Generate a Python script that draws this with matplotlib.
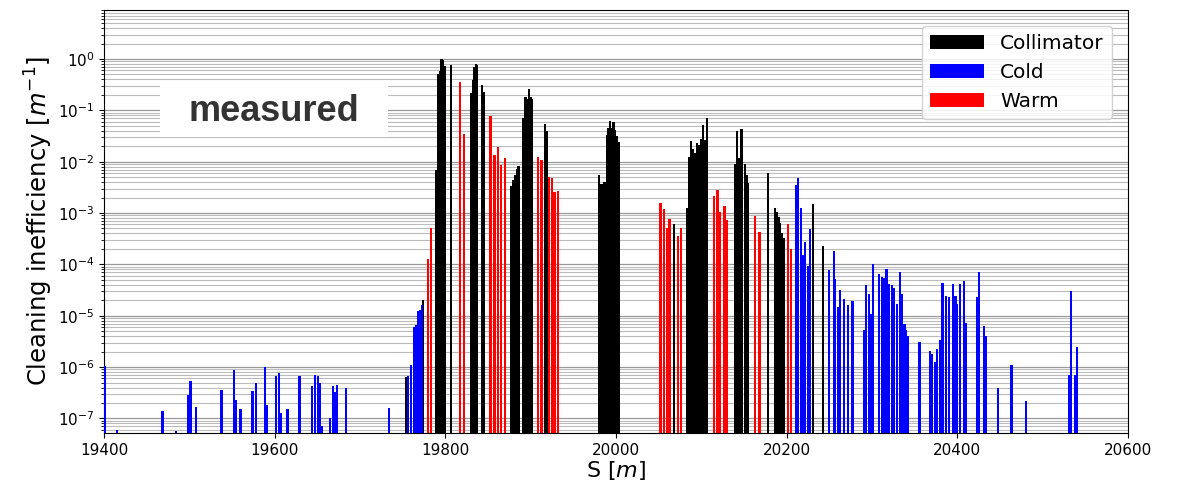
import numpy as np
import matplotlib
matplotlib.use('Agg')
import matplotlib.pyplot as plt
from matplotlib.ticker import LogLocator, NullFormatter
from matplotlib.patches import Rectangle

# longitudinal position [m] and cleaning inefficiency [1/m] per element type
coll_s = [19754, 19774, 19788.6, 19791, 19793.5, 19795.5, 19797.2, 19799, 19806.6,
          19830, 19832, 19834, 19836, 19837.5, 19842.6, 19844.8,
          19877, 19879.5, 19881.5, 19883.6, 19885.6,
          19891, 19893.8, 19896, 19897.7, 19899.7, 19901.7, 19916.5, 19918.8,
          19980, 19982.5, 19984.5, 19986.5, 19989, 19991, 19993, 19995, 19997, 19999, 20001, 20003,
          20067.8, 20083.6, 20085.4, 20087.7, 20089.5, 20091.5, 20093, 20094.7, 20097.5,
          20099.8, 20102, 20104.4, 20106.8,
          20140, 20141.7, 20144, 20147, 20151, 20153, 20155, 20177.8,
          20186.5, 20188.4, 20190.6, 20192.3, 20194, 20196.5, 20230.8, 20242.8]
coll_v = [6.3e-7, 2e-5, 6.8e-3, 0.5, 0.58, 1.0, 0.95, 0.72, 0.76,
          0.22, 0.39, 0.71, 0.79, 0.75, 0.31, 0.23,
          3.4e-3, 4.4e-3, 5.6e-3, 7.1e-3, 8.3e-3,
          0.072, 0.18, 0.17, 0.26, 0.18, 0.17, 0.054, 0.04,
          5.6e-3, 3.6e-3, 3.6e-3, 4e-3, 0.033, 0.046, 0.062, 0.046, 0.058, 0.042, 0.032, 0.024,
          6e-4, 1.23e-3, 0.0126, 0.025, 0.0174, 0.015, 0.015, 0.023, 0.021,
          0.028, 0.051, 0.027, 0.07,
          8.9e-3, 0.04, 0.012, 0.044, 8.9e-3, 5.4e-3, 3.9e-3, 5.9e-3,
          1.26e-3, 1.07e-3, 8.5e-4, 6.5e-4, 4e-4, 3.2e-4, 1.5e-3, 2.3e-4]

cold_s = [19401, 19415.6, 19468.6, 19484, 19498.6, 19501.4, 19507.6, 19537.6, 19552, 19555,
          19560, 19574, 19578, 19589, 19590.6, 19601.5, 19604.7, 19607.8, 19615, 19629,
          19643.6, 19646.8, 19650.6, 19652.6, 19655, 19665, 19668, 19670.5, 19673, 19684,
          19734, 19756, 19759.6, 19763, 19765.5, 19768, 19770.5, 19772.5,
          20211, 20213, 20217, 20219, 20221.6, 20225, 20227.6,
          20250, 20255, 20257, 20260, 20262, 20267, 20272, 20277,
          20290.8, 20293, 20296, 20298.6, 20301.3,
          20308.3, 20311.3, 20314.3, 20317, 20320, 20323, 20326, 20329,
          20332.6, 20335, 20338, 20340, 20342, 20355.5,
          20367.6, 20370, 20373.4, 20376.5, 20379.3, 20382.5, 20387, 20390,
          20395.3, 20397.7, 20400, 20403.5, 20407.3, 20410.5,
          20423, 20425, 20431, 20433.5, 20447.5, 20463.5, 20480.7,
          20530.6, 20533.6, 20537.5, 20540]
cold_v = [1.07e-6, 6e-8, 1.4e-7, 5.7e-8, 2.9e-7, 5.4e-7, 1.7e-7, 3.5e-7, 8.9e-7, 2.3e-7,
          1.5e-7, 3.4e-7, 5e-7, 1e-6, 1.8e-7, 6.8e-7, 7.6e-7, 1.3e-7, 1.5e-7, 6.8e-7,
          4.2e-7, 7.1e-7, 6.8e-7, 4.9e-7, 7e-8, 1e-7, 4.3e-7, 3.3e-7, 4.4e-7, 4e-7,
          1.6e-7, 6.8e-7, 1.1e-6, 5.9e-6, 6.5e-6, 1.25e-5, 1.3e-5, 1.6e-5,
          3.5e-3, 4.9e-3, 1.26e-3, 1.5e-4, 2.7e-4, 9.2e-5, 4.8e-4,
          7.9e-5, 1.86e-4, 5.3e-5, 1.5e-5, 3.2e-5, 2.1e-5, 1.6e-5, 1.9e-5,
          5.3e-6, 3.9e-5, 2.6e-5, 1.1e-5, 1e-4,
          6.5e-5, 5.7e-5, 5.5e-5, 8.3e-5, 4.1e-5, 4e-5, 3.5e-5, 1.7e-5,
          7e-5, 2.6e-5, 6.9e-6, 5.3e-6, 4.1e-6, 3.1e-6,
          2.1e-6, 1.8e-6, 1.23e-6, 2.2e-6, 3.4e-6, 4.4e-5, 2.4e-5, 2.3e-5,
          4.1e-5, 2.4e-5, 1.7e-5, 4.2e-5, 4.8e-5, 7.2e-6,
          2.3e-5, 7e-5, 6.3e-6, 4.1e-6, 3.9e-7, 1.1e-6, 2.2e-7,
          6.9e-7, 3e-5, 7e-7, 2.5e-6]

warm_s = [19779.6, 19783.6, 19817, 19822, 19853, 19857.6, 19861.6, 19865.5, 19869.8,
          19908.3, 19912.6, 19921, 19925, 19928, 19932,
          20052, 20056, 20060, 20062.7, 20072.5, 20076.4,
          20115, 20119, 20122, 20127, 20130, 20163, 20168, 20201.6, 20205.4]
warm_v = [1.3e-4, 5e-4, 0.36, 0.035, 0.078, 0.0133, 0.0196, 0.0087, 0.012,
          0.0126, 0.011, 5.1e-3, 4.9e-3, 2.6e-3, 2.7e-3,
          1.6e-3, 1.18e-3, 5.1e-4, 7.7e-4, 3.5e-4, 5e-4,
          2.1e-3, 2.8e-3, 1.07e-3, 1.4e-3, 7.2e-4, 8.7e-4, 4.2e-4, 6.2e-4, 2e-4]

fig = plt.figure(figsize=(11.78, 4.88), dpi=100)
ax = fig.add_axes([0.0883, 0.1127, 0.8693, 0.8668])

bw = 2.6
floor = 1e-9
ax.bar(coll_s, np.array(coll_v) - floor, bottom=floor, width=bw, color='black', label='Collimator', zorder=3)
ax.bar(cold_s, np.array(cold_v) - floor, bottom=floor, width=bw, color='blue', label='Cold', zorder=3)
ax.bar(warm_s, np.array(warm_v) - floor, bottom=floor, width=bw, color='red', label='Warm', zorder=3)

ax.set_yscale('log')
ax.set_xlim(19400, 20600)
ax.set_ylim(5.2e-8, 9)
ax.set_xticks(np.arange(19400, 20601, 200))
ax.yaxis.set_major_locator(LogLocator(base=10, numticks=20))
ax.yaxis.set_minor_locator(LogLocator(base=10, subs=np.arange(2, 10), numticks=20))
ax.yaxis.set_minor_formatter(NullFormatter())
ax.tick_params(labelsize=11)

ax.grid(which='major', axis='y', color='#999999', lw=0.9, zorder=0)
ax.grid(which='minor', axis='y', color='#bbbbbb', lw=0.8, zorder=0)
ax.set_axisbelow(True)

ax.set_xlabel('S [$m$]', fontsize=16, labelpad=1)
ax.set_ylabel('Cleaning inefficiency [$m^{-1}$]', fontsize=17.5, labelpad=2)

ax.add_patch(Rectangle((0.0547, 0.70), 0.2226, 0.123, transform=ax.transAxes,
                       facecolor='white', edgecolor='none', zorder=2))
ax.text(0.166, 0.761, 'measured', transform=ax.transAxes, ha='center', va='center',
        fontsize=26, fontweight='bold', color='#333333', family='Liberation Sans', zorder=4)

ax.legend(loc='upper right', fontsize=14.5, handlelength=2.7, borderaxespad=0.8, framealpha=0.85)

fig.savefig('out.png', dpi=100)
